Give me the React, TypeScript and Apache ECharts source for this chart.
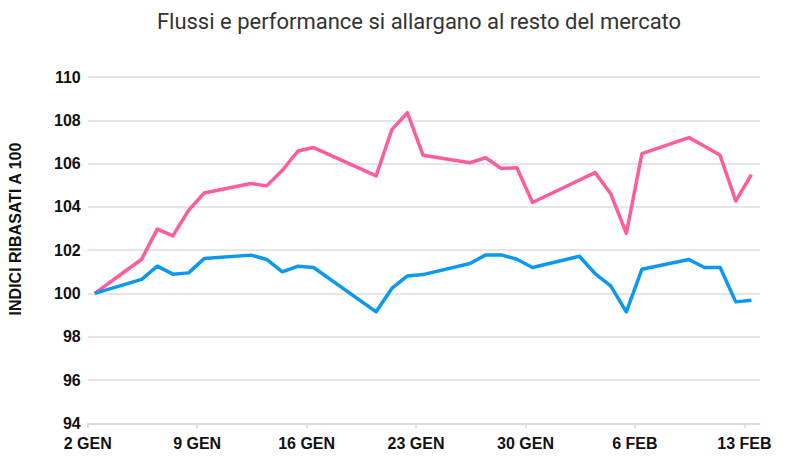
import React, { useEffect, useRef } from "react";
import * as echarts from "echarts";

const dates = [
  "2026-01-02", "2026-01-05", "2026-01-06", "2026-01-07", "2026-01-08", "2026-01-09",
  "2026-01-12", "2026-01-13", "2026-01-14", "2026-01-15", "2026-01-16",
  "2026-01-20", "2026-01-21", "2026-01-22", "2026-01-23",
  "2026-01-26", "2026-01-27", "2026-01-28", "2026-01-29", "2026-01-30",
  "2026-02-02", "2026-02-03", "2026-02-04", "2026-02-05", "2026-02-06",
  "2026-02-09", "2026-02-10", "2026-02-11", "2026-02-12", "2026-02-13",
];

const pinkValues = [
  100.0, 101.58, 102.97, 102.66, 103.84, 104.64,
  105.08, 104.97, 105.69, 106.58, 106.74,
  105.43, 107.57, 108.35, 106.38,
  106.04, 106.27, 105.77, 105.81, 104.2,
  105.24, 105.58, 104.61, 102.77, 106.46,
  107.2, 106.8, 106.38, 104.27, 105.49,
];

const blueValues = [
  100.0, 100.65, 101.26, 100.89, 100.95, 101.61,
  101.77, 101.57, 101.0, 101.26, 101.2,
  99.15, 100.23, 100.81, 100.87,
  101.38, 101.78, 101.78, 101.58, 101.2,
  101.72, 100.92, 100.35, 99.15, 101.12,
  101.57, 101.2, 101.2, 99.61, 99.69,
];

const monthLabels = ["GEN", "FEB", "MAR"];
const yTicks = { min: 94, max: 110, step: 2 };
const startDate = "2026-01-02";
const axisDays = 43;
const title = "Flussi e performance si allargano al resto del mercato";
const yName = "INDICI RIBASATI A 100";

const DAY = 86400000;
const POINT_SHIFT = 0.45;

function dayIndex(d: string) {
  return (Date.parse(d + "T00:00:00Z") - Date.parse(startDate + "T00:00:00Z")) / DAY;
}

export default function App() {
  const ref = useRef<HTMLDivElement>(null);
  useEffect(() => {
    document.body.style.margin = "0";
    const chart = echarts.init(ref.current!, null, { renderer: "svg" });
    const toPoints = (vals: number[]) => dates.map((d, i) => [dayIndex(d) + POINT_SHIFT, vals[i]]);
    const labelFont = "'Liberation Sans', Arial, sans-serif";
    chart.setOption({
      animation: false,
      backgroundColor: "#ffffff",
      title: {
        text: title,
        left: 414,
        top: 5,
        textAlign: "center",
        textStyle: { fontFamily: "Roboto", fontWeight: "normal", fontSize: 22, color: "#333333" },
      },
      grid: { left: 87.7, right: 26, top: 77, bottom: 49.7, containLabel: false },
      xAxis: {
        type: "value",
        min: 0,
        max: axisDays,
        interval: 7,
        axisLine: { show: true, lineStyle: { color: "#d8d8d8", width: 1.5 } },
        axisTick: { show: true, length: 5, lineStyle: { color: "#d8d8d8", width: 1.5 } },
        splitLine: { show: false },
        axisLabel: {
          margin: 12,
          fontFamily: labelFont,
          fontWeight: "bold",
          fontSize: 16,
          color: "#111111",
          showMaxLabel: false,
          formatter: (v: number) => {
            const dt = new Date(Date.parse(startDate + "T00:00:00Z") + v * DAY);
            return dt.getUTCDate() + " " + monthLabels[dt.getUTCMonth()];
          },
        },
      },
      yAxis: {
        type: "value",
        min: yTicks.min,
        max: yTicks.max,
        interval: yTicks.step,
        axisLine: { show: false },
        axisTick: { show: false },
        splitLine: { show: true, lineStyle: { color: "#dcdcdc", width: 1.5 } },
        axisLabel: {
          margin: 7,
          fontFamily: labelFont,
          fontWeight: "bold",
          fontSize: 16,
          color: "#111111",
        },
      },
      graphic: [
        {
          type: "text",
          x: 15.5,
          y: 229,
          rotation: Math.PI / 2,
          style: {
            text: yName,
            fontFamily: labelFont,
            fontWeight: "bold",
            fontSize: 16,
            fill: "#111111",
            textAlign: "center",
            textVerticalAlign: "middle",
          },
        },
      ],
      series: [
        {
          name: "pink",
          type: "line",
          data: toPoints(pinkValues),
          showSymbol: false,
          symbol: "none",
          lineStyle: { color: "#ff5c9e", width: 3.5, join: "round" },
          z: 3,
        },
        {
          name: "blue",
          type: "line",
          data: toPoints(blueValues),
          showSymbol: false,
          symbol: "none",
          lineStyle: { color: "#0a98f0", width: 3.5, join: "round" },
          z: 4,
        },
      ],
    });
    return () => chart.dispose();
  }, []);
  return <div ref={ref} style={{ width: 786, height: 473 }} />;
}
